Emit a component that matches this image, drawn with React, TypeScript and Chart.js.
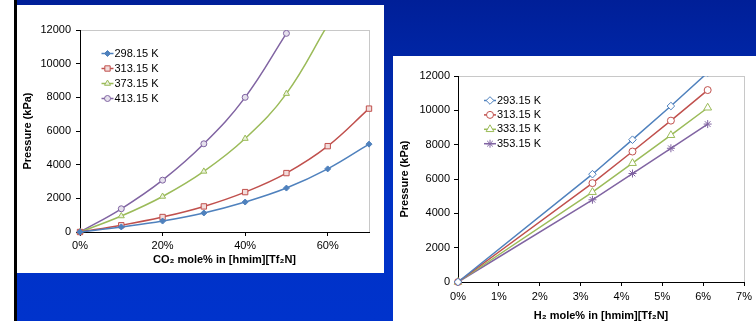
import React, { useEffect, useRef } from 'react';
import { Chart, registerables } from 'chart.js';
import { drawPoint } from 'chart.js/helpers';

Chart.register(...registerables);

// ---- Left chart: CO2 in [hmim][Tf2N] ----
const co2X = [0, 0.1, 0.2, 0.3, 0.4, 0.5, 0.6, 0.7];
const co2XTicks = [0, 0.2, 0.4, 0.6];
const co2Labels = ['298.15 K', '313.15 K', '373.15 K', '413.15 K'];
const co2_298 = [0, 300, 650, 1130, 1780, 2610, 3750, 5220];
const co2_313 = [0, 400, 890, 1520, 2370, 3500, 5100, 7330];
const co2_373 = [0, 950, 2110, 3600, 5550, 8220, 12300];
const co2_413 = [0, 1380, 3080, 5240, 8000, 11800];

// ---- Right chart: H2 in [hmim][Tf2N] ----
const h2X = [0, 0.0329, 0.0427, 0.0521, 0.0611];
const h2Labels = ['293.15 K', '313.15 K', '333.15 K', '353.15 K'];
const h2_293 = [0, 6280, 8290, 10250, 12200];
const h2_313 = [0, 5760, 7600, 9400, 11180];
const h2_333 = [0, 5230, 6920, 8550, 10150];
const h2_353 = [0, 4790, 6320, 7790, 9200];

const yMax = 12000;
const yStep = 2000;

const FONT = '"Liberation Sans", Arial, sans-serif';
const BLUE = '#4F81BD';
const RED = '#C0504D';
const GREEN = '#9BBB59';
const PURPLE = '#8064A2';

const pts = (xs: number[], ys: number[]) => ys.map((y, i) => ({ x: xs[i], y }));

const insideLegend = {
  id: 'insideLegend',
  afterDraw(chart: any, _args: any, opts: any) {
    const { ctx } = chart;
    chart.data.datasets.forEach((ds: any, i: number) => {
      const yy = opts.y + i * opts.step;
      ctx.save();
      ctx.strokeStyle = ds.borderColor;
      ctx.lineWidth = ds.borderWidth;
      ctx.beginPath();
      ctx.moveTo(opts.x, yy);
      ctx.lineTo(opts.x + opts.lineLen, yy);
      ctx.stroke();
      ctx.fillStyle = ds.pointBackgroundColor;
      ctx.strokeStyle = ds.pointBorderColor;
      ctx.lineWidth = ds.pointBorderWidth;
      drawPoint(ctx, { pointStyle: ds.pointStyle, radius: ds.pointRadius, borderWidth: ds.pointBorderWidth, rotation: 0 } as any, opts.x + opts.lineLen / 2, yy);
      ctx.fillStyle = '#000';
      ctx.font = `11px ${FONT}`;
      ctx.textBaseline = 'middle';
      ctx.textAlign = 'left';
      ctx.fillText(ds.label, opts.x + opts.lineLen + 1, yy);
      ctx.restore();
    });
  },
};

const plotBorder = {
  id: 'plotBorder',
  beforeDraw(chart: any) {
    const { ctx, chartArea: a } = chart;
    ctx.save();
    ctx.strokeStyle = '#C8C8C8';
    ctx.lineWidth = 1;
    ctx.strokeRect(Math.round(a.left) + 0.5, Math.round(a.top) + 0.5, Math.round(a.right - a.left), Math.round(a.bottom - a.top));
    ctx.restore();
  },
};

const axisCommon = {
  grid: { drawOnChartArea: false, drawTicks: true, tickLength: 4, color: '#000' },
  border: { color: '#000', width: 1 },
};

function ds(label: string, data: any[], color: string, style: string, radius: number, fillPoint: string, tension: number) {
  return {
    label,
    data,
    borderColor: color,
    backgroundColor: color,
    borderWidth: 1.5,
    pointStyle: style,
    pointRadius: radius,
    pointHoverRadius: radius,
    pointBackgroundColor: fillPoint,
    pointBorderColor: color,
    pointBorderWidth: 1,
    tension,
    fill: false,
    clip: { left: 8, right: 8, top: 0, bottom: 8 },
  };
}

function leftConfig(): any {
  return {
    type: 'line',
    data: {
      datasets: [
        ds(co2Labels[0], pts(co2X, co2_298), BLUE, 'rectRot', 3, BLUE, 0.4),
        ds(co2Labels[1], pts(co2X, co2_313), RED, 'rect', 3.8, '#F2DCDB', 0.4),
        ds(co2Labels[2], pts(co2X, co2_373), GREEN, 'triangle', 3.5, '#EBF1DE', 0.4),
        ds(co2Labels[3], pts(co2X, co2_413), PURPLE, 'circle', 3, '#E5E0EC', 0.4),
      ],
    },
    options: {
      responsive: false,
      animation: false,
      layout: { padding: { top: 25, right: 15, bottom: 0, left: 0 } },
      plugins: {
        legend: { display: false },
        tooltip: { enabled: false },
        insideLegend: { x: 84.5, y: 48.5, step: 15, lineLen: 12 },
      },
      scales: {
        x: {
          type: 'linear',
          min: 0,
          max: 0.7,
          bounds: 'data',
          ...axisCommon,
          ticks: { stepSize: 0.2, maxRotation: 0, padding: 3, color: '#000', font: { family: FONT, size: 11 }, callback: (v: number) => Math.round(v * 100) + '%' },
          afterBuildTicks: (s: any) => { s.ticks = co2XTicks.map((value) => ({ value })); },
          title: { display: true, text: 'CO₂ mole% in [hmim][Tf₂N]', color: '#000', font: { family: FONT, size: 11, weight: 'bold' }, padding: { top: 0, bottom: 6 } },
          afterFit: (s: any) => { s.height = 41; },
        },
        y: {
          type: 'linear',
          min: 0,
          max: yMax,
          ...axisCommon,
          ticks: { stepSize: yStep, padding: 5, color: '#000', font: { family: FONT, size: 11 }, callback: (v: number) => String(v) },
          title: { display: true, text: 'Pressure (kPa)', color: '#000', font: { family: FONT, size: 11, weight: 'bold' }, padding: { top: 4, bottom: 0 } },
          afterFit: (s: any) => { s.width = 63; },
        },
      },
    },
    plugins: [plotBorder, insideLegend],
  };
}

function rightConfig(): any {
  return {
    type: 'line',
    data: {
      datasets: [
        ds(h2Labels[0], pts(h2X, h2_293), BLUE, 'rectRot', 3.8, '#fff', 0),
        ds(h2Labels[1], pts(h2X, h2_313), RED, 'circle', 3.5, '#fff', 0),
        ds(h2Labels[2], pts(h2X, h2_333), GREEN, 'triangle', 4.5, '#fff', 0),
        ds(h2Labels[3], pts(h2X, h2_353), PURPLE, 'star', 4, '#fff', 0),
      ],
    },
    options: {
      responsive: false,
      animation: false,
      layout: { padding: { top: 20, right: 10, bottom: 0, left: 0 } },
      plugins: {
        legend: { display: false },
        tooltip: { enabled: false },
        insideLegend: { x: 91, y: 44.5, step: 14.4, lineLen: 12 },
      },
      scales: {
        x: {
          type: 'linear',
          min: 0,
          max: 0.07,
          ...axisCommon,
          ticks: { stepSize: 0.01, maxRotation: 0, padding: 4, color: '#000', font: { family: FONT, size: 11 }, callback: (v: number) => Math.round(v * 100) + '%' },
          title: { display: true, text: 'H₂ mole% in [hmim][Tf₂N]', color: '#000', font: { family: FONT, size: 11, weight: 'bold' }, padding: { top: 0, bottom: 8 } },
          afterFit: (s: any) => { s.height = 49; },
        },
        y: {
          type: 'linear',
          min: 0,
          max: yMax,
          ...axisCommon,
          ticks: { stepSize: yStep, padding: 4, color: '#000', font: { family: FONT, size: 11 }, callback: (v: number) => String(v) },
          title: { display: true, text: 'Pressure (kPa)', color: '#000', font: { family: FONT, size: 11, weight: 'bold' }, padding: { top: 5, bottom: 0 } },
          afterFit: (s: any) => { s.width = 65; },
        },
      },
    },
    plugins: [plotBorder, insideLegend],
  };
}

function ChartBox({ make, left, top, width, height }: { make: () => any; left: number; top: number; width: number; height: number }) {
  const ref = useRef<HTMLCanvasElement | null>(null);
  useEffect(() => {
    const chart = new Chart(ref.current as HTMLCanvasElement, make());
    return () => chart.destroy();
  }, []);
  return (
    <div style={{ position: 'absolute', left, top, width, height, background: '#fff' }}>
      <canvas ref={ref} width={width} height={height} style={{ display: 'block', width, height }} />
    </div>
  );
}

export default function App() {
  useEffect(() => {
    document.body.style.margin = '0';
    document.body.style.overflow = 'hidden';
  }, []);
  return (
    <div
      style={{
        position: 'relative',
        width: 756,
        height: 321,
        overflow: 'hidden',
        background: 'linear-gradient(to bottom, #001f98 0%, #002aaf 30%, #0031c4 60%, #0033cc 100%)',
      }}
    >
      <div style={{ position: 'absolute', left: 0, top: 0, width: 14, height: 321, background: '#fff' }} />
      <div style={{ position: 'absolute', left: 14, top: 0, width: 3, height: 321, background: '#000' }} />
      <ChartBox make={leftConfig} left={17} top={5} width={367} height={268} />
      <ChartBox make={rightConfig} left={393} top={56} width={363} height={275} />
    </div>
  );
}
